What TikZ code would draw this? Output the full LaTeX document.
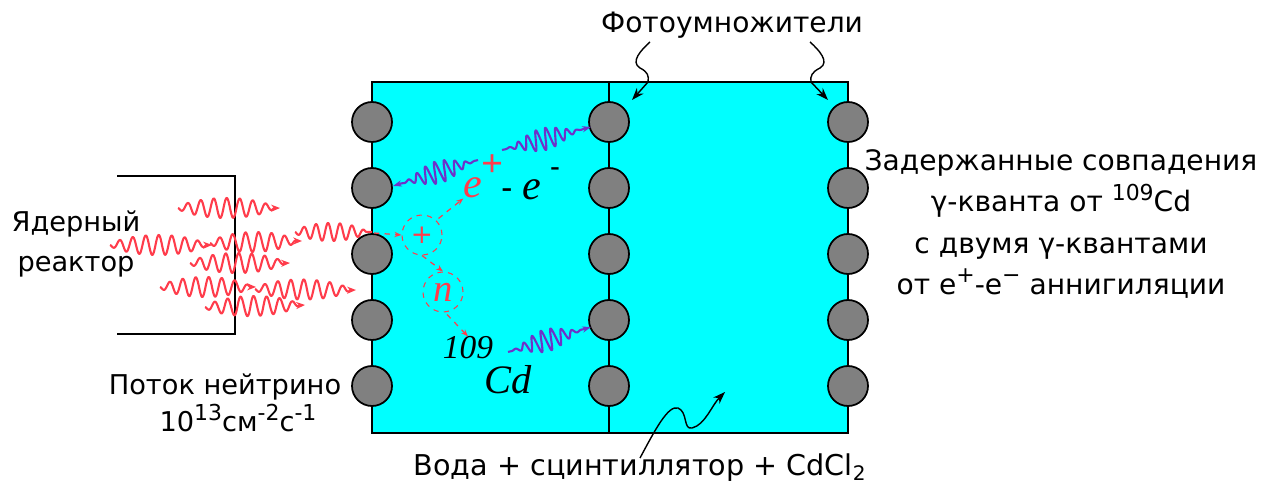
\documentclass[tikz,border=0pt]{standalone}
\usepackage{fontspec}
\setmainfont{DejaVu Sans}
\newfontfamily\tmsfont{Liberation Serif}
\usetikzlibrary{arrows.meta}

\definecolor{water}{RGB}{0,255,255}
\definecolor{pmtgray}{RGB}{128,128,128}
\definecolor{nured}{RGB}{255,60,75}
\definecolor{gampurple}{RGB}{110,50,200}

% raised index in the labels
\newcommand{\sups}[1]{\raisebox{0.42em}{\fontsize{12.5pt}{12.5pt}\selectfont #1}}

% wave packet from (#1,#2) to (#3,#4); #5 style, #6 amplitude, #7 wavelength, #8 envelope power
\newcommand{\wpkt}[8]{%
  \pgfmathsetmacro\wdx{#3-#1}%
  \pgfmathsetmacro\wdy{#4-#2}%
  \pgfmathsetmacro\wlen{veclen(\wdx,\wdy)}%
  \pgfmathsetmacro\wang{atan2(\wdy,\wdx)}%
  \pgfmathsetmacro\wbody{\wlen-6}%
  \pgfmathsetmacro\wk{360/#7}%
  \pgfmathsetmacro\we{180/\wbody}%
  \pgfmathsetmacro\wend{\wbody-0.05}%
  \begin{scope}[shift={(#1,#2)},rotate=-\wang]
    \draw[#5] plot[domain=0.05:\wend,samples=240] (\x,{#6*sin(\wk*\x)*pow(abs(sin(\we*\x)),#8)}) -- (\wlen,0);
  \end{scope}}

\begin{document}
\begin{tikzpicture}[x=0.02cm,y=-0.02cm,
  lbl/.style={font=\fontsize{15.5pt}{23pt}\selectfont, inner sep=0pt, align=center},
  biglbl/.style={lbl, font=\fontsize{16pt}{23.5pt}\selectfont},
  pmt/.style={circle, fill=pmtgray, draw=black, line width=1pt, minimum size=0.8cm, inner sep=0pt},
  tag/.style={circle, draw=nured, dashed, line width=0.6pt, minimum size=0.8cm, inner sep=0pt, text=nured},
  wall/.style={line width=1.5pt},
  callout/.style={line width=0.8pt, -{Stealth[length=7pt,width=5pt]}},
  nu/.style={nured, line width=1.2pt, line join=round, -{Stealth[length=5pt,width=4pt]}},
  gam/.style={gampurple, line width=1.2pt, line join=round, -{Stealth[length=5pt,width=3.5pt]}},
  trk/.style={nured, dashed, line width=0.7pt, -{Stealth[length=4pt,width=3pt]}},
  ital/.style={inner sep=0pt, font=\tmsfont\itshape\fontsize{24pt}{24pt}\selectfont}
]
\useasboundingbox (0,0) rectangle (1280,496);

% reactor housing
\draw[line width=1.5pt] (117,176) -- (235,176) -- (235,334) -- (117,334);

% detector tank
\fill[water] (372,82) rectangle (848,433);
\draw[wall] (372,82) rectangle (848,433);
\draw[wall] (609,82) -- (609,433);

% neutrino flux
\wpkt{178}{208}{280}{208}{nu}{10}{13}{0.6}
\wpkt{110}{245}{212}{245}{nu}{10}{13}{0.6}
\wpkt{210}{243}{302}{241}{nu}{10}{13}{0.6}
\wpkt{190}{263}{290}{263}{nu}{10}{13}{0.6}
\wpkt{160}{287}{256}{287}{nu}{10}{13}{0.6}
\wpkt{255}{289}{356}{290}{nu}{10}{13}{0.6}
\wpkt{205}{307}{305}{305}{nu}{10}{13}{0.6}
\wpkt{295}{232}{372}{232}{nured,line width=1.2pt,line join=round}{9}{12}{0.6}

% photomultipliers
\foreach \c/\xx in {L/372,M/609,R/848}
  \foreach \i/\yy in {1/122,2/188,3/254,4/320,5/386}
    \node[pmt] (\c\i) at (\xx,\yy) {};

% reaction chain
\node[tag, font=\fontsize{15pt}{15pt}\selectfont] (pos) at (422,235) {+};
\node[tag, font=\tmsfont\itshape\fontsize{22pt}{22pt}\selectfont] (neu) at (443,292) {n};
\coordinate (entry) at (374,233);
\draw[trk] (entry) -- (pos.west);

\node[ital, text=nured] (ep) at (473,188) {e};
\node[inner sep=0pt, text=nured, font=\tmsfont\bfseries\fontsize{22pt}{22pt}\selectfont] (epsign) at (493,166) {+};
\node[inner sep=0pt, font=\tmsfont\bfseries\fontsize{18pt}{18pt}\selectfont] (dash) at (507,193) {-};
\node[ital] (em) at (532,190) {e};
\node[inner sep=0pt, font=\tmsfont\bfseries\fontsize{16pt}{16pt}\selectfont] (emsign) at (555,172) {-};

\node[inner sep=0pt, font=\tmsfont\itshape\fontsize{19pt}{19pt}\selectfont] (mass) at (468,348) {109};
\node[inner sep=0pt, font=\tmsfont\itshape\fontsize{23pt}{23pt}\selectfont] (cd) at (508,380) {Cd};

\draw[trk] (pos.north east) ++(2,-2) -- (ep.south west);
\draw[trk] (pos.south) -- (neu.north);
\draw[trk] (neu.south) ++(4,2) -- (mass.north);

% annihilation and capture gammas
\wpkt{478}{160}{393}{186}{gam}{11}{10}{2}
\wpkt{502}{150}{591}{127}{gam}{11}{10}{2}
\wpkt{508}{352}{591}{327}{gam}{11}{10}{2}

% labels
\node[lbl] (reactor) at (76,244) {Ядерный\\реактор};
\node[lbl] (flux1) at (225,387) {Поток нейтрино};
\node[lbl] (flux2) at (238,418) {10\sups{13}см\sups{-2}с\sups{-1}};
\node[biglbl] (pmtlbl) at (732,25) {Фотоумножители};
\node[lbl, font=\fontsize{16.3pt}{23pt}\selectfont] (medium) at (640,468) {Вода + сцинтиллятор + CdCl\textsubscript{2}};
\node[biglbl] (coinc) at (1061,224) {Задержанные совпадения\\γ-кванта от \sups{109}Cd\\с двумя γ-квантами\\от e\sups{+}-e\sups{−} аннигиляции};

% callouts
\coordinate (pa) at (650,42);
\coordinate (pb) at (648,82);
\coordinate (pc) at (632,100);
\draw[line width=0.8pt] (pa) .. controls (641,50) and (630,62) .. (640,68) .. controls (648,72) and (649,76) .. (pb);
\draw[callout] (pb) -- (pc);
\coordinate (qa) at (810,42);
\coordinate (qb) at (811,82);
\coordinate (qc) at (828,100);
\draw[line width=0.8pt] (qa) .. controls (819,50) and (830,62) .. (820,68) .. controls (812,72) and (810,76) .. (qb);
\draw[callout] (qb) -- (qc);

\coordinate (ma) at (640,458);
\coordinate (mb) at (725,392);
\draw[callout] (ma) .. controls (655,430) and (668,405) .. (678,408) .. controls (688,412) and (683,430) .. (692,428) .. controls (705,425) and (712,405) .. (mb);
\end{tikzpicture}
\end{document}
